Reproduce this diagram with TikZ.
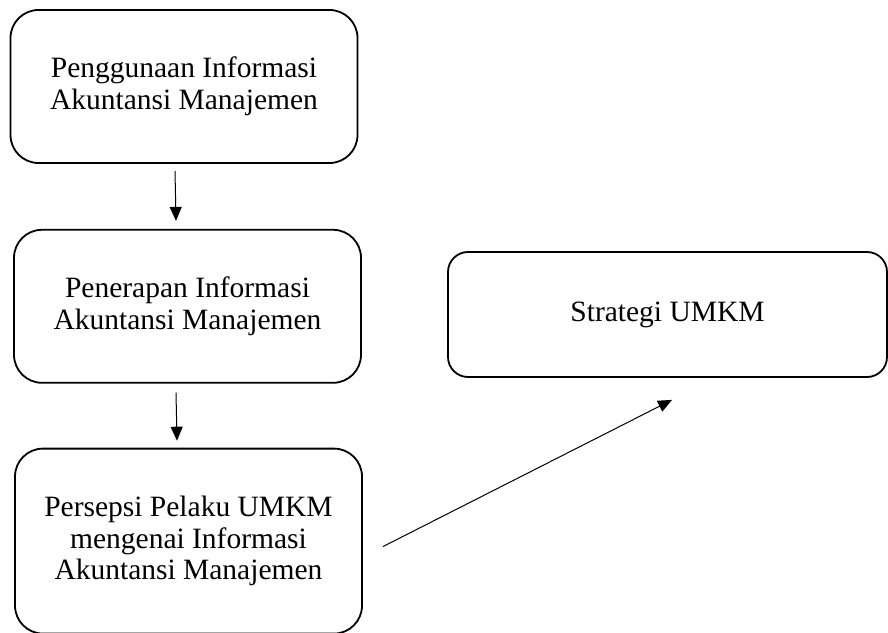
\documentclass[tikz,border=0pt]{standalone}
\usepackage{fontspec}
\setmainfont{Liberation Serif}
\usetikzlibrary{arrows.meta, positioning}

\begin{document}
\begin{tikzpicture}[x=1pt, y=1pt,
    node distance=65pt,
    box/.style={rectangle, rounded corners=28pt, draw, line width=1.8pt, align=center, inner sep=0pt, minimum width=347pt, minimum height=153pt, font=\fontsize{29.5}{31.5}\selectfont},
    arrow/.style={-{Triangle[length=14pt, width=12pt]}, line width=1pt}
]
\useasboundingbox (0,0) rectangle (888,632);

% Penggunaan
\node[box] (pengguna) at (184,545.5) {Penggunaan Informasi\\Akuntansi Manajemen};

% Penerapan
\node[box, below=65pt of pengguna, xshift=3.5pt] (penerapan) {Penerapan Informasi\\Akuntansi Manajemen};

% Persepsi
\node[box, below=64pt of penerapan, xshift=1pt, minimum height=185pt] (persepsi) {Persepsi Pelaku UMKM\\mengenai Informasi\\Akuntansi Manajemen};

% Strategi
\node[box, rounded corners=20pt, minimum width=439pt, minimum height=125pt] (strategi) at (667.5,317.5) {Strategi UMKM};

% Arrows
\draw[arrow] ([xshift=-9pt, yshift=-7pt]pengguna.south) -- ([xshift=-11.5pt, yshift=8pt]penerapan.north);
\draw[arrow] ([xshift=-11.5pt, yshift=-9pt]penerapan.south) -- ([xshift=-11.5pt, yshift=7pt]persepsi.north);
\draw[arrow] ([xshift=20pt, yshift=-5.5pt]persepsi.east) -- ([xshift=4.5pt, yshift=-22pt]strategi.south);

\end{tikzpicture}
\end{document}
